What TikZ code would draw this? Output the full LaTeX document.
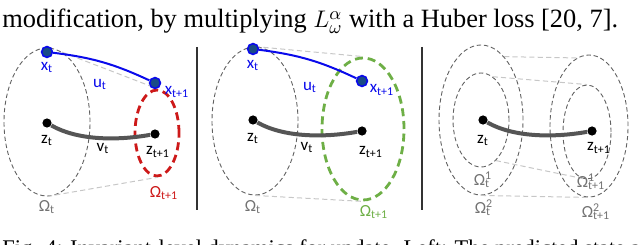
\documentclass[tikz,border=0pt]{standalone}
\usepackage{fontspec}
\setmainfont{Liberation Serif}
\newfontfamily\lblfont{Carlito}
\usetikzlibrary{shapes.geometric,positioning}

\definecolor{dotblue}{RGB}{25,75,135}
\definecolor{ublue}{RGB}{10,10,235}
\definecolor{vgrey}{RGB}{85,85,85}
\definecolor{omred}{RGB}{205,25,25}
\definecolor{omgreen}{RGB}{110,175,70}

% Omega with stacked super/subscript
\newcommand{\omss}[2]{\rlap{\textsuperscript{#1}}\textsubscript{#2}}

\begin{document}
\begin{tikzpicture}[x=0.5pt, y=-0.5pt,
  bdot/.style={circle, inner sep=0pt, minimum size=5.4pt, fill=dotblue, draw=ublue, line width=0.8pt},
  kdot/.style={circle, inner sep=0pt, minimum size=4.6pt, fill=black},
  lbl/.style={font=\lblfont\fontsize{8.5}{9}\selectfont, inner sep=0pt},
  shell/.style={ellipse, inner sep=0pt, draw=black!62, dash pattern=on 2.2pt off 1.4pt, line width=0.45pt},
  redshell/.style={ellipse, inner sep=0pt, draw=omred, dash pattern=on 4pt off 2.4pt, line width=1.4pt},
  greenshell/.style={ellipse, inner sep=0pt, draw=omgreen, dash pattern=on 4pt off 2.4pt, line width=1.4pt},
  tang/.style={draw=black!22, dash pattern=on 2.6pt off 1.6pt, line width=0.5pt},
  uline/.style={draw=ublue, line width=1pt},
  vline/.style={draw=vgrey, line width=2pt},
  sep/.style={draw=black!80, line width=0.8pt}]

  \useasboundingbox (0,0) rectangle (640,245);
  \clip (0,0) rectangle (640,245);

  % caption text
  \node[anchor=base west, inner sep=0pt, font=\fontsize{13.2}{15}\selectfont] (txttop) at (2,28)
  {modification, by multiplying $L^{\alpha}_{\omega}$ with a Huber loss [20, 7].};
  \node[anchor=base west, inner sep=0pt, font=\fontsize{11.2}{13}\selectfont] (txtbot) at (2,255)
  {Fig. 4: Invariant-level dynamics for update. Left: The predicted state at t+1};

  % separators
  \draw[sep] (197,47) -- (197,210);
  \draw[sep] (422,47) -- (422,210);

  % ---- left panel ----
  \node[shell, minimum width=43pt, minimum height=74pt] (oma) at (47,122) {};
  \node[redshell, minimum width=22pt, minimum height=43pt] (omb) at (157,133) {};
  \draw[tang] (oma.78) -- (omb.north);
  \draw[tang] (oma.south) -- (omb.south);

  \node[bdot] (xa) at (47,52) {};
  \node[bdot] (xb) at (155,83) {};
  \node[kdot] (za) at (47,123) {};
  \node[kdot] (zb) at (155,134) {};
  \draw[uline] (xa) to[bend left=9] (xb);
  \draw[vline] (za) .. controls +(30,17) and +(-40,7) .. (zb);

  \node[lbl, ublue] (lxa) at (47,67) {x\textsubscript{t}};
  \node[lbl, ublue] (lua) at (100,84) {u\textsubscript{t}};
  \node[lbl, ublue] (lxb) at (177,92) {x\textsubscript{t+1}};
  \node[lbl] (lza) at (47,140) {z\textsubscript{t}};
  \node[lbl] (lva) at (103,148) {v\textsubscript{t}};
  \node[lbl] (lzb) at (158,152) {z\textsubscript{t+1}};
  \node[lbl, black!55] (loma) at (47,207) {Ω\textsubscript{t}};
  \node[lbl, omred] (lomb) at (164,193) {Ω\textsubscript{t+1}};

  % ---- middle panel ----
  \node[shell, minimum width=43pt, minimum height=74pt] (omc) at (255,121) {};
  \node[greenshell, minimum width=41pt, minimum height=71pt] (omd) at (363,129) {};
  \draw[tang] (omc.north) -- (omd.north);
  \draw[tang] (omc.south) -- (omd.south);

  \node[bdot] (xc) at (253,49) {};
  \node[bdot] (xd) at (362,81) {};
  \node[kdot] (zc) at (253,120) {};
  \node[kdot] (zd) at (362,131) {};
  \draw[uline] (xc) to[bend left=9] (xd);
  \draw[vline] (zc) .. controls +(30,17) and +(-40,7) .. (zd);

  \node[lbl, ublue] (lxc) at (253,65) {x\textsubscript{t}};
  \node[lbl, ublue] (luc) at (310,87) {u\textsubscript{t}};
  \node[lbl, ublue] (lxd) at (382,90) {x\textsubscript{t+1}};
  \node[lbl] (lzc) at (253,138) {z\textsubscript{t}};
  \node[lbl] (lvc) at (307,147) {v\textsubscript{t}};
  \node[lbl] (lzd) at (371,152) {z\textsubscript{t+1}};
  \node[lbl, black!55] (lomc) at (253,207) {Ω\textsubscript{t}};
  \node[lbl, omgreen] (lomd) at (374,212) {Ω\textsubscript{t+1}};

  % ---- right panel ----
  \node[shell, minimum width=42pt, minimum height=75pt] (ome) at (481,120) {};
  \node[shell, minimum width=28pt, minimum height=47pt] (omf) at (481,120) {};
  \node[shell, minimum width=39pt, minimum height=71pt] (omg) at (589,126) {};
  \node[shell, minimum width=24pt, minimum height=47pt] (omh) at (587,132) {};
  \draw[tang] (ome.70) -- (omg.100);
  \draw[tang] (omf.75) -- (omh.north);
  \draw[tang] (omf.290) -- (omh.south);
  \draw[tang] (ome.south) -- (omg.south);

  \node[kdot] (ze) at (483,120) {};
  \node[kdot] (zg) at (592,131) {};
  \draw[vline] (ze) .. controls +(30,17) and +(-40,7) .. (zg);

  \node[lbl] (lze) at (483,140) {z\textsubscript{t}};
  \node[lbl] (lzg) at (599,148) {z\textsubscript{t+1}};
  \node[lbl, black!55] (lomf) at (482,180) {Ω\omss{1}{t}};
  \node[lbl, black!55] (lome) at (483,208) {Ω\omss{2}{t}};
  \node[lbl, black!55] (lomh) at (591,182) {Ω\omss{1}{t+1}};
  \node[lbl, black!55] (lomg) at (596,212) {Ω\omss{2}{t+1}};

\end{tikzpicture}
\end{document}
